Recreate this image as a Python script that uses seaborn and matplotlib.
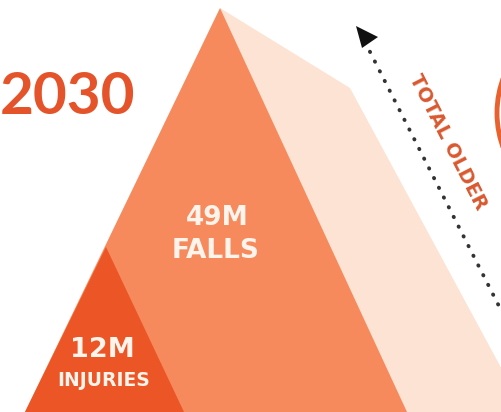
import matplotlib
matplotlib.use("Agg")
import matplotlib.pyplot as plt
import seaborn as sns
from matplotlib.patches import Polygon, Circle

# ---- data ----
year = ["2030"]
counts = ["49M", "12M"]
count_labels = ["FALLS", "INJURIES"]
arrow_label = ["TOTAL OLDER"]

sns.set_theme(style="white")
plt.rcParams["font.family"] = ["DejaVu Sans"]

W, H = 501, 412
fig = plt.figure(figsize=(W / 100, H / 100), dpi=100)
ax = fig.add_axes([0, 0, 1, 1])
ax.set_xlim(0, W)
ax.set_ylim(H, 0)
ax.axis("off")
fig.patch.set_facecolor("white")

c_pale = "#FDE3D3"
c_mid = "#F68A5C"
c_dark = "#EC5525"
c_text = "#E4532A"

# pale background shape
ax.add_patch(Polygon([(220, 8), (350, 88), (525, 412), (300, 412)], closed=True,
                     facecolor=c_pale, edgecolor="none", zorder=1))
# medium triangle (falls)
ax.add_patch(Polygon([(220, 8), (407, 412), (25, 412)], closed=True,
                     facecolor=c_mid, edgecolor="none", zorder=2))
# dark triangle (injuries)
ax.add_patch(Polygon([(106, 247), (184, 412), (25, 412)], closed=True,
                     facecolor=c_dark, edgecolor="none", zorder=3))

# circle at right edge
ax.add_patch(Circle((597, 113), 100, facecolor="none", edgecolor="#E8622F",
                    linewidth=3.5, zorder=2))

# dotted arrow
ax.plot([365, 505], [42, 318], linestyle=(0, (0.1, 2.7)), dash_capstyle="round",
        color="#333333", linewidth=2.8, zorder=4)
ax.add_patch(Polygon([(356, 26), (378, 37), (362, 48)], closed=True,
                     facecolor="#111111", edgecolor="none", zorder=5))

# texts
ax.text(0, 97, year[0], family=["Lato", "DejaVu Sans"], fontsize=42,
        fontweight="bold", color=c_text, ha="left", va="center", zorder=6)
ax.text(217, 218, counts[0], fontsize=19, fontweight="bold", color="#FFF4EC",
        ha="center", va="center", zorder=6)
ax.text(216, 251, count_labels[0], fontsize=19, fontweight="bold", color="#FFF4EC",
        ha="center", va="center", zorder=6)
ax.text(102, 350, counts[1], fontsize=19.5, fontweight="bold", color="#FFF4EC",
        ha="center", va="center", zorder=6)
ax.text(104, 380, count_labels[1], fontsize=13.5, fontweight="bold", color="#FFF4EC",
        ha="center", va="center", zorder=6)
ax.text(448, 142, arrow_label[0], fontsize=14, fontweight="bold", color="#D9582F",
        ha="center", va="center", rotation=-63, rotation_mode="anchor", zorder=6)

fig.savefig("out.png", dpi=100, facecolor="white")
